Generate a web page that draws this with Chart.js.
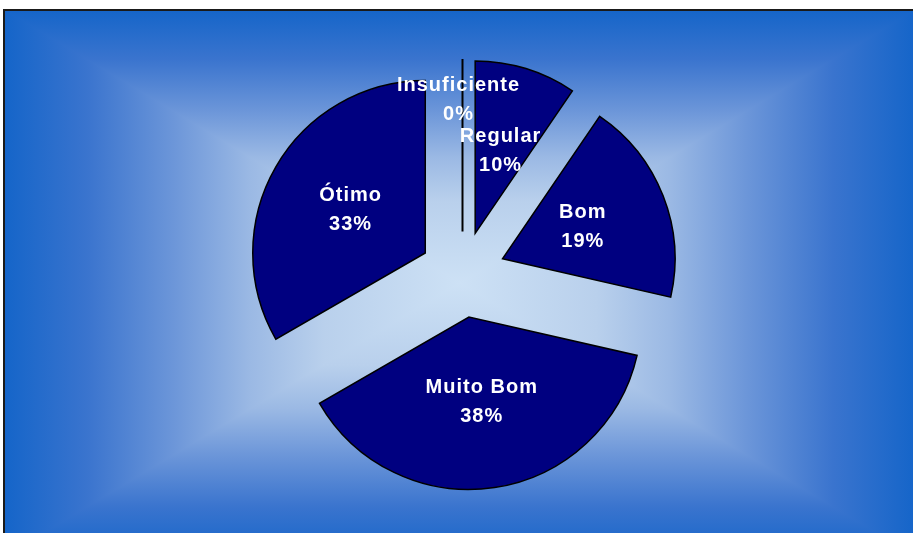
<!DOCTYPE html>
<html>
<head>
<meta charset="utf-8">
<script src="https://cdn.jsdelivr.net/npm/chart.js"></script>
<style>
  body { margin: 0; background: #fff; }
  #wrap { width: 913px; height: 533px; }
</style>
</head>
<body>
<div id="wrap"><canvas id="Avaliacao"></canvas></div>
<script>
var categorias = ["Insuficiente", "Regular", "Bom", "Muito Bom", "Ótimo"];
var respostas = [0, 2, 4, 8, 7];

var explode = 43; // px each slice is pulled out

// edge -> centre colours of the background
var fundoStops = [
  [0, "rgb(21,101,201)"],
  [0.18, "rgb(58,116,206)"],
  [0.37, "rgb(108,150,217)"],
  [0.54, "rgb(155,185,228)"],
  [0.7, "rgb(185,208,236)"],
  [1, "rgb(205,225,245)"],
];

// fundo: gradiente retangular (claro no centro, azul nas bordas) //
var fundoPlugin = {
  id: "fundo",
  beforeDraw: function(chart) {
    var c = chart.ctx;
    var x0 = 5, y0 = 10, x1 = 915, y1 = 556;
    var cx = (x0 + x1) / 2, cy = (y0 + y1) / 2;
    c.save();
    c.fillStyle = "#fff";
    c.fillRect(0, 0, chart.width, chart.height);

    function espelho(a0, b0, a1, b1) {
      var g = c.createLinearGradient(a0, b0, a1, b1);
      fundoStops.forEach(function(s) {
        g.addColorStop(s[0] / 2, s[1]);
        g.addColorStop(1 - s[0] / 2, s[1]);
      });
      return g;
    }

    // top + bottom
    c.fillStyle = espelho(0, y0, 0, y1);
    c.fillRect(x0, y0, x1 - x0, y1 - y0);

    // left + right triangles
    c.beginPath();
    c.moveTo(x0, y0); c.lineTo(cx, cy); c.lineTo(x0, y1); c.closePath();
    c.moveTo(x1, y0); c.lineTo(cx, cy); c.lineTo(x1, y1); c.closePath();
    c.fillStyle = espelho(x0, 0, x1, 0);
    c.fill();

    c.strokeStyle = "#1a1a1a";
    c.lineWidth = 2;
    c.beginPath();
    c.moveTo(4, chart.height);
    c.lineTo(4, 10);
    c.lineTo(chart.width, 10);
    c.stroke();
    c.restore();
  }
};

// fatias destacadas + rotulos //
var explodirPlugin = {
  id: "explodir",
  afterDatasetsUpdate: function(chart) {
    var arcs = chart.getDatasetMeta(0).data;
    arcs.forEach(function(arc) {
      var meio = (arc.startAngle + arc.endAngle) / 2;
      arc.x = arc.x + Math.cos(meio) * explode;
      arc.y = arc.y + Math.sin(meio) * explode;
    });
  },
  afterDatasetsDraw: function(chart) {
    var c = chart.ctx;
    var arcs = chart.getDatasetMeta(0).data;
    var total = respostas.reduce(function(a, b) { return a + b; }, 0);
    c.save();
    arcs.forEach(function(arc, i) {
      var meio = (arc.startAngle + arc.endAngle) / 2;
      var r = arc.outerRadius;
      if (respostas[i] === 0) {
        c.strokeStyle = "#000";
        c.lineWidth = 2;
        c.beginPath();
        c.moveTo(arc.x, arc.y);
        c.lineTo(arc.x + Math.cos(meio) * r, arc.y + Math.sin(meio) * r);
        c.stroke();
      }
      var f = respostas[i] === 0 ? 0.76 : 0.5;
      var lx = arc.x + Math.cos(meio) * r * f;
      var ly = arc.y + Math.sin(meio) * r * f;
      if (respostas[i] === 0) lx -= 4;
      c.fillStyle = "#fff";
      c.font = "bold 20px 'Liberation Sans', Arial, sans-serif";
      c.textAlign = "center";
      c.textBaseline = "middle";
      c.letterSpacing = "1px";
      c.fillText(categorias[i], lx, ly - 14.5);
      c.fillText(Math.round(respostas[i] / total * 100) + "%", lx, ly + 14.5);
    });
    c.restore();
  }
};

var ctx = document.getElementById("Avaliacao").getContext("2d");
var myChart = new Chart(ctx, {
  type: "pie",
  data: {
    labels: categorias,
    datasets: [
      {
        data: respostas,
        backgroundColor: "#000080",
        borderColor: "#000",
        borderWidth: 1.5,
        borderJoinStyle: "miter",
        hoverOffset: 0,
      },
    ],
  },
  options: {
    responsive: true,
    maintainAspectRatio: false,
    animation: false,
    radius: 172.5,
    layout: { padding: { left: 12, top: 16, right: 0, bottom: 0 } },
    plugins: {
      legend: { display: false },
      tooltip: { enabled: false },
    },
  },
  plugins: [fundoPlugin, explodirPlugin],
});
</script>
</body>
</html>
